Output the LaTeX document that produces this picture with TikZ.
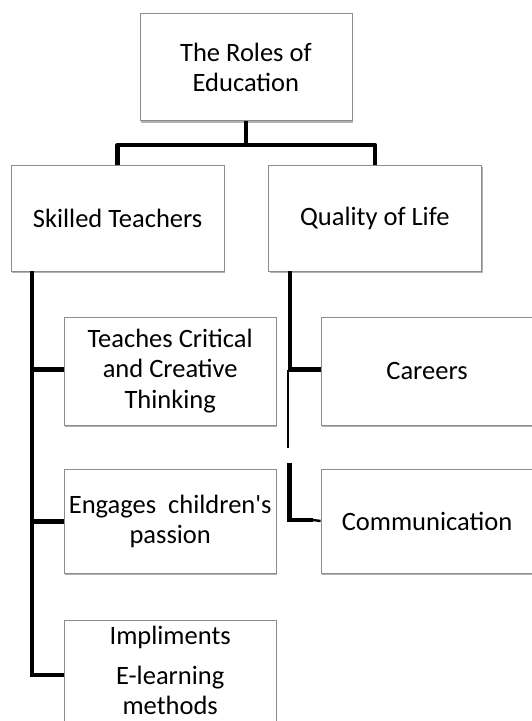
\documentclass[tikz,border=0pt]{standalone}
\usepackage{fontspec}
\newfontfamily\carl{Carlito}
\usetikzlibrary{shadows}
\begin{document}
\begin{tikzpicture}[x=1pt,y=-1pt,
  box/.style={draw=black!45, line width=0.8pt, fill=white, inner sep=0pt,
    drop shadow={shadow xshift=1.2pt, shadow yshift=-1.8pt, fill=black!55, opacity=0.55},
    font=\carl\fontsize{26.5}{30.5}\selectfont, align=center},
  txt/.style={inner sep=0pt, font=\carl\fontsize{26.5}{30.5}\selectfont, align=center},
  thick line/.style={line width=4.5pt},
  thin line/.style={line width=2pt}
]
\useasboundingbox (0,0) rectangle (532,721);
\clip (0,0) rectangle (532,721);
% boxes
\node[box, minimum width=212pt, minimum height=107pt] (top) at (245.9,67.3) {The Roles of\\Education};
\node[box, minimum width=213pt, minimum height=106pt] (skilled) at (117.6,218) {Skilled Teachers};
\node[box, minimum width=213pt, minimum height=106pt] (quality) at (374.8,218) {Quality of Life};
\node[box, minimum width=212pt, minimum height=108pt] (teach) at (170.2,371) {Teaches Critical\\and Creative\\Thinking};
\node[box, minimum width=212pt, minimum height=108pt] (careers) at (427,371) {Careers};
\node[box, minimum width=212pt, minimum height=104pt] (engage) at (170.2,521.5) {Engages\ \ children's\\passion};
\node[box, minimum width=212pt, minimum height=104pt] (comm) at (427,521) {Communication};
\node[box, minimum width=212pt, minimum height=110pt] (imp) at (170.2,675) {};
\node[txt] (imptxt) at (170.2,670.5) {Impliments\\[9pt]E-learning\\methods};
% top tree
\coordinate (j) at (245.9,145);
\draw[thick line] (top.south) -- (j);
\draw[thick line, line join=round] (skilled.north) |- (j) -| (quality.north);
% left spine
\coordinate (ls) at (31.8,271);
\coordinate (le) at (31.8,675);
\draw[thick line, line join=miter] (ls) -- (le) -- (imp.west);
\draw[thick line] ([yshift=1.5pt]teach.west) -- ([yshift=1.5pt]teach.west -| ls);
\draw[thick line] (engage.west) -- (engage.west -| ls);
% right spine
\coordinate (rs) at (289.8,271);
\coordinate (rm) at (289.8,369.5);
\coordinate (rt) at (288.4,369.5);
\coordinate (rg) at (288.4,447.8);
\coordinate (rl) at (289.5,463);
\coordinate (rc) at (289.5,520);
\coordinate (rn) at (313,520);
\draw[thick line] (rs) -- (rm);
\draw[thin line] (rt) -- (rg);
\draw[thick line] ([yshift=1.5pt]careers.west) -- ([yshift=1.5pt]careers.west -| rt);
\draw[thick line, line join=miter] (rl) -- (rc) -- (rn);
\draw[line width=2.4pt] (rn) -- (comm.west);
\end{tikzpicture}
\end{document}
